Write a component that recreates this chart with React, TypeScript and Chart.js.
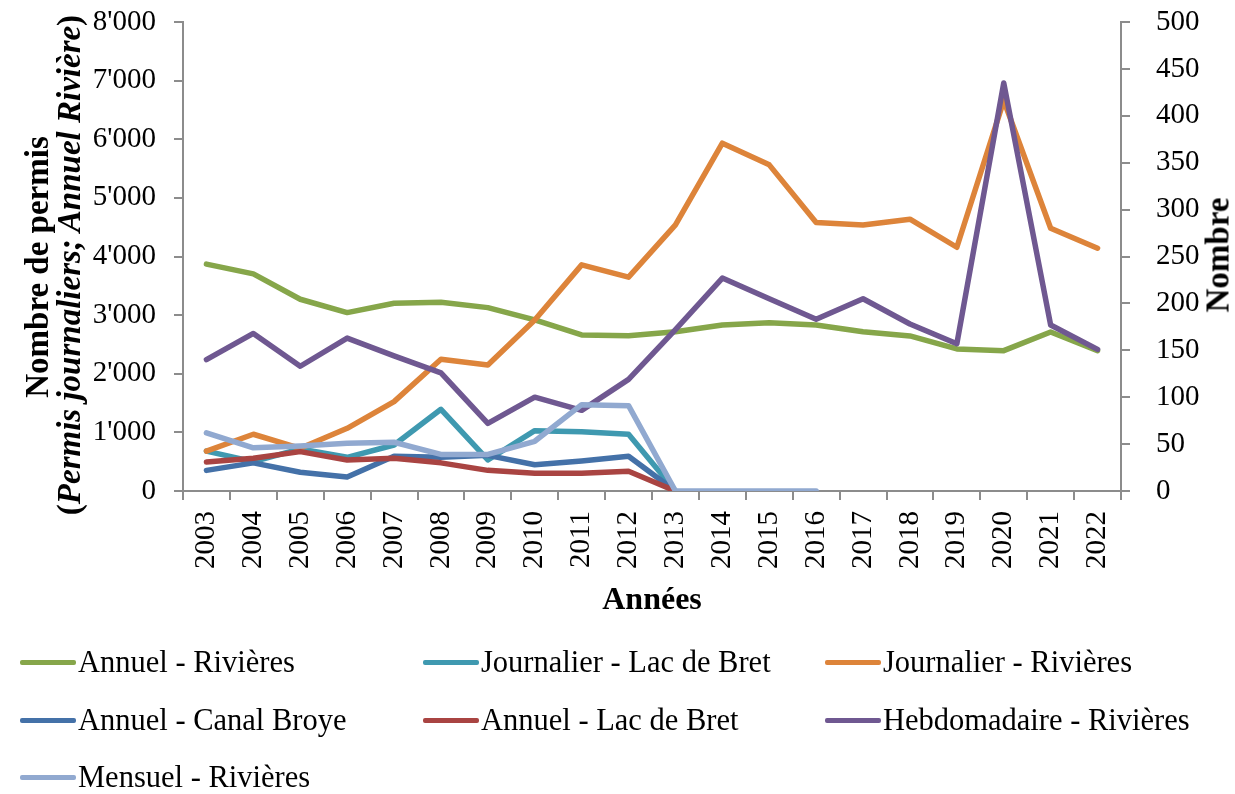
import React, { useEffect, useRef } from 'react';
import { Chart, registerables } from 'chart.js';

Chart.register(...registerables);

const YEARS = ['2003', '2004', '2005', '2006', '2007', '2008', '2009', '2010', '2011', '2012', '2013', '2014', '2015', '2016', '2017', '2018', '2019', '2020', '2021', '2022'];

const ANNUEL_RIVIERES = [3870, 3703, 3271, 3043, 3203, 3220, 3128, 2918, 2662, 2650, 2718, 2833, 2872, 2833, 2718, 2645, 2423, 2394, 2713, 2394];
const JOURNALIER_LAC_BRET = [680, 500, 717, 575, 785, 1394, 529, 1029, 1012, 968, 0];
const JOURNALIER_RIVIERES = [680, 968, 728, 1070, 1524, 2247, 2150, 2918, 3857, 3647, 4539, 5933, 5563, 4579, 4539, 4636, 4158, 6660, 4482, 4141];
const ANNUEL_CANAL_BROYE = [22, 30, 20, 15, 37, 36, 38, 28, 32, 37, 0];
const ANNUEL_LAC_BRET = [31, 35, 42, 33, 35, 30, 22, 19, 19, 21, 0];
const HEBDOMADAIRE_RIVIERES = [140, 168, 133, 163, 144, 126, 72, 100, 86, 119, 172, 227, 205, 183, 205, 178, 157, 435, 177, 151];
const MENSUEL_RIVIERES = [62, 46, 48, 51, 52, 39, 39, 53, 92, 91, 0, 0, 0, 0];

const LEFT_TICKS_MAX = 8000;
const RIGHT_TICKS_MAX = 500;

const SERIES = [
  { label: 'Annuel - Rivières', data: ANNUEL_RIVIERES, axis: 'yL', color: '#86A64A' },
  { label: 'Journalier - Lac de Bret', data: JOURNALIER_LAC_BRET, axis: 'yL', color: '#3F99B0' },
  { label: 'Journalier - Rivières', data: JOURNALIER_RIVIERES, axis: 'yL', color: '#DD843A' },
  { label: 'Annuel - Canal Broye', data: ANNUEL_CANAL_BROYE, axis: 'yR', color: '#4471A8' },
  { label: 'Annuel - Lac de Bret', data: ANNUEL_LAC_BRET, axis: 'yR', color: '#A94442' },
  { label: 'Hebdomadaire - Rivières', data: HEBDOMADAIRE_RIVIERES, axis: 'yR', color: '#6F5891' },
  { label: 'Mensuel - Rivières', data: MENSUEL_RIVIERES, axis: 'yR', color: '#91A9D0' },
];

const AXIS_COLOR = '#8C8C8C';
const FONT = '"Liberation Serif", "Times New Roman", serif';
const SHIFT = 40; // canvas extends above the page so the plot top can sit at y=22

function fmtThousands(v: number): string {
  const s = Math.round(v).toString();
  return s.replace(/\B(?=(\d{3})+(?!\d))/g, "'");
}

export default function App() {
  const ref = useRef<HTMLCanvasElement>(null);

  useEffect(() => {
    const canvas = ref.current;
    if (!canvas) return;
    const datasets = SERIES.map((s, i) => ({
      label: s.label,
      data: s.data,
      yAxisID: s.axis,
      borderColor: s.color,
      backgroundColor: s.color,
      borderWidth: 5.5,
      pointRadius: 0,
      pointHoverRadius: 0,
      tension: 0,
      borderJoinStyle: 'round' as const,
      borderCapStyle: 'round' as const,
      fill: false,
      order: SERIES.length - i,
    }));
    const tickFont = { family: FONT, size: 29 };
    const chart = new Chart(canvas, {
      type: 'line',
      data: { labels: YEARS, datasets },
      options: {
        responsive: false,
        animation: false,
        devicePixelRatio: 1,
        layout: { padding: { top: 22 + SHIFT, left: 0, right: 0, bottom: 0 } },
        plugins: { legend: { display: false }, tooltip: { enabled: false } },
        scales: {
          x: {
            offset: true,
            grid: { display: true, drawOnChartArea: false, tickLength: 9, color: AXIS_COLOR, lineWidth: 2, offset: true },
            border: { display: true, color: AXIS_COLOR, width: 2 },
            ticks: { color: '#000', font: tickFont, maxRotation: 90, minRotation: 90, padding: 11, autoSkip: false },
            afterFit: (s: any) => { s.height = 303; },
          },
          yL: {
            position: 'left',
            min: 0,
            max: LEFT_TICKS_MAX,
            grid: { drawOnChartArea: false, tickLength: 9, color: AXIS_COLOR, lineWidth: 2 },
            border: { display: true, color: AXIS_COLOR, width: 2 },
            ticks: { stepSize: 1000, color: '#000', font: tickFont, padding: 18, callback: (v: any) => fmtThousands(Number(v)) },
            afterFit: (s: any) => { s.width = 183; },
          },
          yR: {
            position: 'right',
            min: 0,
            max: RIGHT_TICKS_MAX,
            grid: { drawOnChartArea: false, tickLength: 9, color: AXIS_COLOR, lineWidth: 2 },
            border: { display: true, color: AXIS_COLOR, width: 2 },
            ticks: { stepSize: 50, color: '#000', font: tickFont, padding: 26 },
            afterFit: (s: any) => { s.width = 114; },
          },
        },
      } as any,
    });
    return () => chart.destroy();
  }, []);

  const rot = (x: number, y: number): React.CSSProperties => ({
    position: 'absolute',
    left: x,
    top: y,
    transform: 'translate(-50%, -50%) rotate(-90deg)',
    whiteSpace: 'nowrap',
    fontFamily: FONT,
    fontWeight: 'bold',
    fontSize: 33,
    lineHeight: 1,
    color: '#000',
  });

  const legendCols = [20, 423, 825];
  const legendRows = [662, 720, 777];

  return (
    <div style={{ position: 'fixed', left: 0, top: 0, width: 1235, height: 794, background: '#fff', overflow: 'hidden' }}>
      <canvas ref={ref} width={1235} height={794 + SHIFT} style={{ position: 'absolute', left: 0, top: -SHIFT }} />
      <div style={rot(37, 267)}>Nombre de permis</div>
      <div style={rot(69, 265)}>
        (<i>Permis journaliers; Annuel Rivière</i>)
      </div>
      <div style={rot(1218, 255)}>Nombre</div>
      <div
        style={{
          position: 'absolute',
          left: 652,
          top: 598,
          transform: 'translate(-50%, -50%)',
          fontFamily: FONT,
          fontWeight: 'bold',
          fontSize: 32,
          lineHeight: 1,
          whiteSpace: 'nowrap',
        }}
      >
        Années
      </div>
      {SERIES.map((s, i) => {
        const x = legendCols[i % 3];
        const y = legendRows[Math.floor(i / 3)];
        return (
          <div key={s.label} style={{ position: 'absolute', left: x, top: y - 20, height: 40, display: 'flex', alignItems: 'center' }}>
            <div style={{ width: 56, height: 5, background: s.color, borderRadius: 2 }} />
            <span style={{ marginLeft: 2, fontFamily: FONT, fontSize: 30.5, whiteSpace: 'nowrap', color: '#000' }}>{s.label}</span>
          </div>
        );
      })}
    </div>
  );
}
